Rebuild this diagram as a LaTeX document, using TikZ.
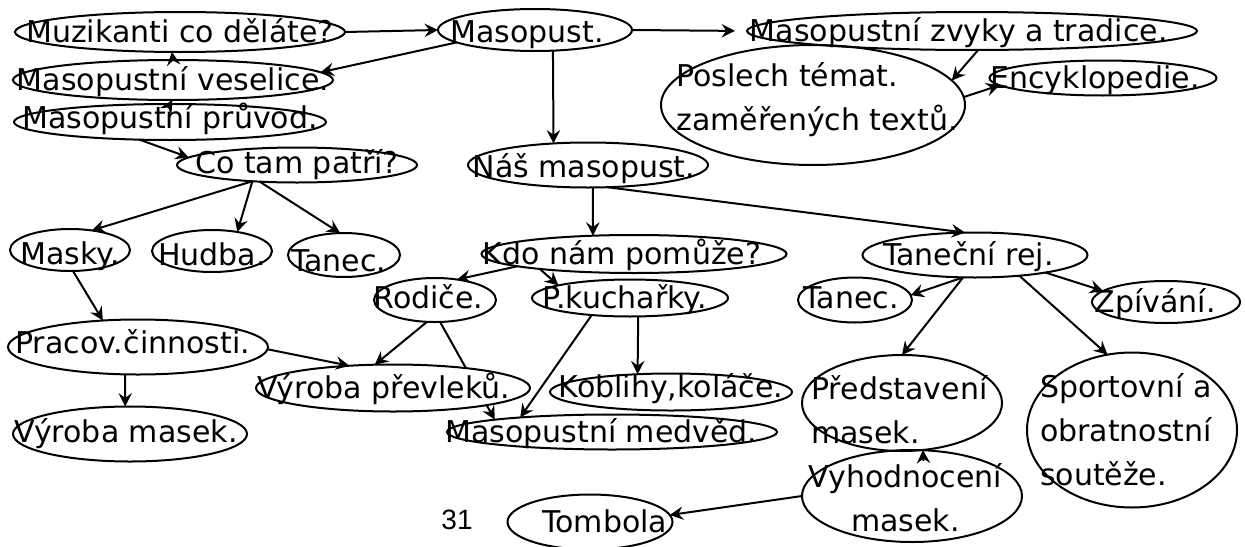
\documentclass[tikz,border=0pt]{standalone}
\usepackage{fontspec}
\setmainfont{DejaVu Sans}
\newfontfamily\cislofont{Liberation Sans}
\usetikzlibrary{shapes.geometric,arrows.meta}

\begin{document}
\begin{tikzpicture}[x=0.75pt,y=-0.75pt]
\tikzset{bublina/.style={draw, ellipse, line width=1.5pt, inner sep=0pt, outer sep=0pt},
  rozmer/.style 2 args={minimum width=#1*0.75pt, minimum height=#2*0.75pt},
  popis/.style={font=\fontsize{22.5}{33}\selectfont, inner sep=0pt},
  radek/.style={popis, execute at begin node=\strut, yshift=-1pt},
  sipka/.style={line width=1.5pt, -{Stealth[length=10pt,width=10pt,inset=3.5pt]}}}
\useasboundingbox (0,0) rectangle (1245,546);
\node[bublina, rozmer={330}{40}, label={[radek]center:{Muzikanti co děláte?}}] (muz) at (180,32) {};
\node[bublina, rozmer={194}{42}, label={[radek, xshift=-6pt, yshift=-2pt]center:{Masopust.}}] (masopust) at (535,30) {};
\node[bublina, rozmer={450}{38}, label={[radek, xshift=-10pt]center:{Masopustní zvyky a tradice.}}] (zvyky) at (972,31) {};
\node[bublina, rozmer={320}{40}, label={[radek]center:{Masopustní veselice.}}] (ves) at (173,80) {};
\node[bublina, rozmer={312}{36}, label={[radek, yshift=2.5pt]center:{Masopustní průvod.}}] (pruvod) at (170,122) {};
\node[bublina, rozmer={240}{35}, label={[radek, yshift=1pt]center:{Co tam patří?}}] (copatri) at (297,165) {};
\node[bublina, rozmer={304}{120}, label={[popis, align=left, xshift=3pt, yshift=4pt]center:{Poslech témat.\\zaměřených textů.}}] (poslech) at (813,105) {};
\node[bublina, rozmer={227}{35}, label={[radek, xshift=-6pt]center:{Encyklopedie.}}] (encyk) at (1103,78) {};
\node[bublina, rozmer={240}{45}, label={[radek, xshift=-3pt, yshift=-1.5pt]center:{Náš masopust.}}] (nas) at (588,165) {};
\node[bublina, rozmer={120}{42}, label={[radek, yshift=-3.5pt]center:{Masky.}}] (masky) at (70,250) {};
\node[bublina, rozmer={120}{42}, label={[radek, yshift=-3pt]center:{Hudba.}}] (hudba) at (212,251) {};
\node[bublina, rozmer={112}{44}, label={[radek, xshift=-4pt, yshift=-5pt]center:{Tanec.}}] (tanec) at (344,255) {};
\node[bublina, rozmer={305}{38}, label={[radek, xshift=-9pt]center:{Kdo nám pomůže?}}] (kdo) at (634,254) {};
\node[bublina, rozmer={225}{45}, label={[radek, xshift=-5pt]center:{Taneční rej.}}] (rej) at (975,255) {};
\node[bublina, rozmer={122}{44}, label={[radek, xshift=-5pt, yshift=1.5pt]center:{Rodiče.}}] (rodice) at (435,300) {};
\node[bublina, rozmer={196}{37}, label={[radek, xshift=-4pt]center:{P.kuchařky.}}] (kuch) at (630,298) {};
\node[bublina, rozmer={114}{45}, label={[radek, xshift=-3pt, yshift=1.5pt]center:{Tanec.}}] (tanec2) at (855,300) {};
\node[bublina, rozmer={148}{42}, label={[radek, xshift=-8pt]center:{Zpívání.}}] (zpivani) at (1166,302) {};
\node[bublina, rozmer={260}{55}, label={[radek, xshift=-4pt, yshift=3pt]center:{Pracov.činnosti.}}] (pracov) at (138,347) {};
\node[bublina, rozmer={242}{37}, label={[radek, yshift=3.5pt]center:{Koblihy,koláče.}}] (koblihy) at (671,392) {};
\node[bublina, rozmer={330}{35}, label={[radek, xshift=-8pt]center:{Masopustní medvěd.}}] (medved) at (612,432) {};
\node[bublina, rozmer={234}{55}, label={[radek, xshift=-3pt, yshift=1.5pt]center:{Výroba masek.}}] (vmasky) at (130,434) {};
\node[bublina, rozmer={200}{96}, label={[popis, align=left, xshift=-2pt, yshift=-5pt]center:{Představení\\masek.}}] (predst) at (902,403) {};
\node[bublina, rozmer={210}{155}, label={[popis, align=left, xshift=-4.5pt]center:{Sportovní a\\obratnostní\\soutěže.}}] (sport) at (1132,430) {};
\node[bublina, rozmer={220}{92}, label={[popis, align=center, xshift=-5pt, yshift=-1.5pt]center:{Vyhodnocení\\masek.}}] (vyhod) at (912,496) {};
\node[bublina, rozmer={165}{55}, label={[radek, xshift=11pt]center:{Tombola}}] (tombola) at (590,522) {};
\node[font=\cislofont\fontsize{21}{25}\selectfont] (strana) at (457,520) {31};
\draw[sipka] (rodice.-77) -- (medved.174);
\node[bublina, fill=white, rozmer={274}{47}, label={[radek, xshift=-7pt]center:{Výroba převleků.}}] (prevleky) at (393,388) {};
\draw[sipka] (muz.east) -- (masopust.west);
\draw[sipka] (masopust.189) -- (ves.3);
\draw[sipka, shorten >=9pt] (masopust.east) -- (zvyky.west);
\draw[sipka] (masopust.-49) -- (nas.148);
\draw[sipka] (zvyky.-72) -- (poslech.10);
\draw[sipka] (poslech.3) -- (encyk.184);
\draw[sipka] (ves.north) -- (muz.-112);
\draw[sipka] (pruvod.north) -- (ves.-92);
\draw[sipka] (pruvod.-150) -- (copatri.176);
\draw[sipka] (copatri.200) -- (masky.42);
\draw[sipka] (copatri.200) -- (hudba.37);
\draw[sipka] (copatri.204) -- (tanec.100);
\draw[sipka] (masky.-82) -- (pracov.143);
\draw[sipka] (pracov.-115) -- (vmasky.100);
\draw[sipka] (pracov.-1) -- (prevleky.153);
\draw[sipka] (nas.-78) -- (kdo.156);
\draw[sipka] (nas.-49) -- (rej.114);
\draw[sipka] (kdo.186) -- (rodice.43);
\draw[sipka] (kdo.189) -- (kuch.170);
\draw[sipka] (rodice.250) -- (prevleky.128);
\draw[sipka] (kuch.204) -- (medved.171);
\draw[sipka] (kuch.-66) -- (koblihy.152);
\draw[sipka] (rej.242) -- (tanec2.5);
\draw[sipka] (rej.-14) -- (zpivani.170);
\draw[sipka] (rej.242) -- (predst.north);
\draw[sipka] (rej.-25) -- (sport.108);
\draw[sipka] (vyhod.west) -- (tombola.5);
\draw[sipka] ([yshift=-8pt]vyhod.76) -- (predst.-66);
\end{tikzpicture}
\end{document}
